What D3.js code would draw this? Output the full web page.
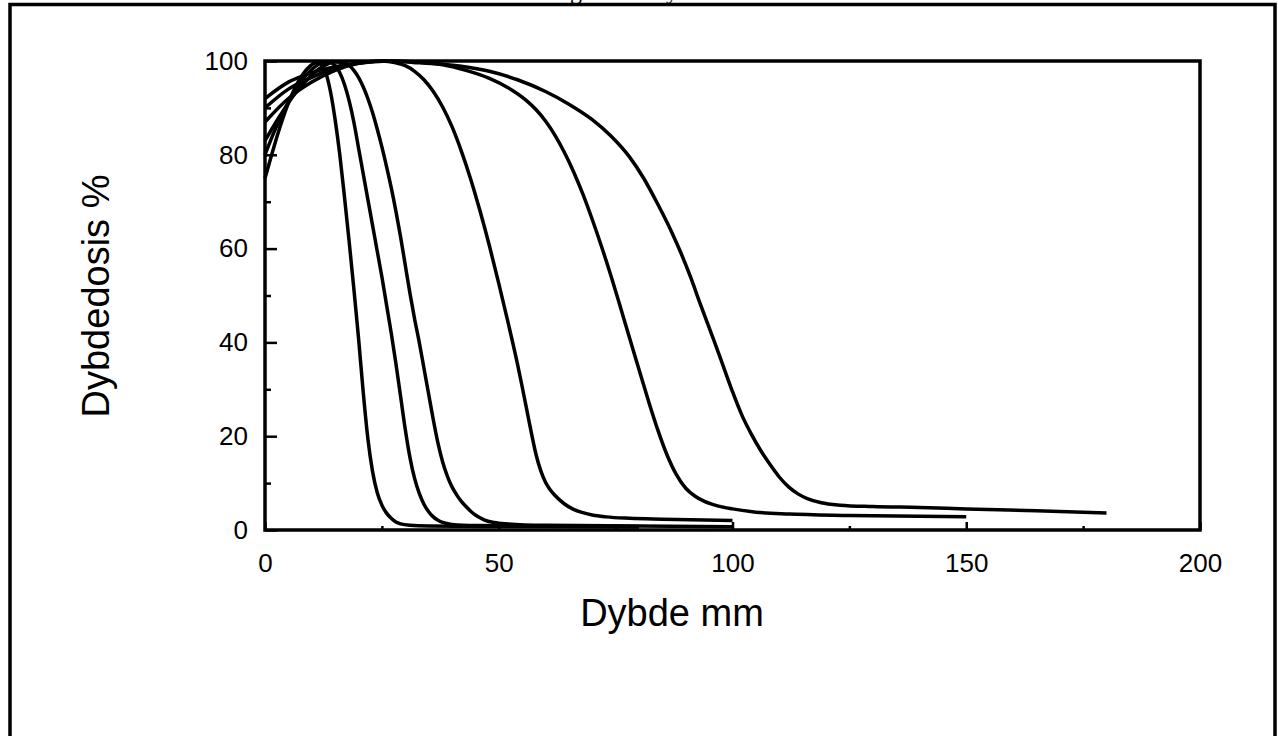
<html>
    <head>
        <title>Dybdedosis</title>
        <script src="https://d3js.org/d3.v7.min.js"></script>
        <style>
            body { margin: 0; background: #fff; }
            text { font-family: "Liberation Sans", Arial, sans-serif; }
        </style>
    </head>
    <body>
        <div id="container"></div>

        <script>
            // depth (mm), dose (%), one array per beam
            const curve1 = [[0,75],[1,78.5],[2,82],[3,85.3],[4,88.3],[5,91],[6,93.4],[7,95.4],[8,97],[9,98.3],[10,99.2],[11,99.7],[12,99.3],[13,97.5],[14,93.5],[15,87.5],[16,80],[17,71],[18,61.5],[19,51.5],[20,41],[21,29.5],[22,19.5],[23,12.5],[24,8],[25,5.3],[26,3.6],[27,2.5],[28,1.7],[29,1.3],[31,1.0],[35,0.85],[50,0.75],[80,0.65]]
            const curve2 = [[0,80],[2,85],[4,89.3],[6,93],[8,96],[10,98.2],[12,99.5],[14,99.7],[15,99],[16,97.5],[17,95],[18,91.5],[19,87],[20,81.5],[21,76],[22,70.5],[23,65],[24,59.5],[25,54],[26,48],[27,42],[28,35.5],[29,28.5],[30,21.5],[31,15.5],[32,11],[33,7.8],[34,5.5],[35,3.9],[36,2.8],[37,2.1],[38,1.6],[40,1.2],[45,0.95],[60,0.85],[80,0.75]]
            const curve3 = [[0,83],[3,88],[6,92.5],[9,96],[12,98.6],[15,99.8],[17,99.6],[19,98],[20,96.5],[21,94.5],[22,92],[23,89],[24,85.5],[25,81.7],[26,77.5],[27,73],[28,68],[29,62.5],[30,56.5],[31,50.5],[32,45],[33,40],[34,34.5],[35,29],[36,23.5],[37,18.5],[38,14.5],[39,11.5],[40,9.2],[41,7.5],[42,6.1],[43,5],[44,4],[45,3.2],[46,2.6],[47,2.1],[49,1.6],[52,1.3],[60,1.0],[100,0.7]]
            const curve4 = [[0,87],[5,92],[10,95.5],[15,98],[20,99.5],[25,100],[28,99.6],[30,99],[32,97.8],[34,96],[36,93.5],[38,90.2],[40,86],[42,80.8],[44,74.8],[46,68],[48,60.6],[50,52.6],[52,44.2],[54,35.4],[55,30.6],[56,25.6],[57,20.6],[58,16],[59,12.6],[60,10.2],[61,8.6],[62,7.4],[64,5.6],[66,4.4],[68,3.7],[70,3.2],[73,2.8],[78,2.5],[85,2.3],[100,2.0]]
            const curve5 = [[0,90],[5,94],[10,96.5],[15,98.5],[20,99.5],[27,100],[33,99.6],[38,99.2],[43,98],[48,96.3],[52,94.3],[56,91.5],[58,89.6],[60,87.2],[62,84.2],[64,80.6],[66,76.4],[68,71.6],[70,66.2],[72,60.4],[74,54.2],[76,47.6],[78,40.9],[80,34.2],[82,27.6],[84,21.4],[86,16],[88,11.8],[90,8.9],[92,7.2],[94,6.1],[97,5.1],[100,4.5],[105,3.8],[112,3.4],[125,3.1],[150,2.8]]
            const curve6 = [[0,92],[5,95.5],[10,97.5],[15,98.8],[20,99.6],[27,100],[35,99.6],[42,98.9],[48,97.8],[54,96],[60,93.5],[65,90.8],[70,87.5],[74,84],[78,79.5],[81,75],[84,69.5],[87,63.5],[89,59],[91,54],[93,48.5],[96,40.5],[98,35],[100,29.5],[102,24.5],[104,20.5],[106,17],[108,14],[110,11.3],[112,9.2],[114,7.7],[116,6.7],[119,5.8],[123,5.3],[130,5.0],[140,4.8],[150,4.5],[165,4.1],[180,3.6]]
            const curves = [curve1, curve2, curve3, curve4, curve5, curve6]

            const xMajor = [0, 50, 100, 150, 200]
            const xMinor = [25, 75, 125, 175]
            const yMajor = [0, 20, 40, 60, 80, 100]
            const yMinor = [10, 30, 50, 70, 90]

            const width = 1278, height = 736
            const plot = { left: 265, right: 1200, top: 61, bottom: 530 }

            const svg = d3.select('#container')
                .append('svg')
                .attr('width', width)
                .attr('height', height)

            // outer frame, bottom edge runs off the page
            svg.append('rect')
                .attr('x', 10).attr('y', 4.5)
                .attr('width', 1265).attr('height', 800)
                .attr('fill', 'none').attr('stroke', '#000').attr('stroke-width', 3.5)

            // title sits above the page, only descenders peek out
            const title = svg.append('text')
                .attr('y', -1)
                .style('font-family', '"Liberation Serif", serif')
                .style('font-size', '24px')
                .text('Elektronstråling: målte dybdedoser')
            const gOff = title.node().getSubStringLength(0, title.text().indexOf('g'))
            title.attr('x', 570 - gOff)

            const x = d3.scaleLinear().domain([0, 200]).range([plot.left, plot.right])
            const y = d3.scaleLinear().domain([0, 100]).range([plot.bottom, plot.top])

            // axes with inward ticks
            const xAxis = svg.append('g')
                .attr('transform', `translate(0,${plot.bottom})`)
                .call(d3.axisBottom(x).tickValues(xMajor).tickSize(-8))
            svg.append('g')
                .attr('transform', `translate(0,${plot.bottom})`)
                .call(d3.axisBottom(x).tickValues(xMinor).tickSize(-4).tickFormat(''))

            svg.append('g')
                .attr('transform', `translate(${plot.left},0)`)
                .call(d3.axisLeft(y).tickValues(yMajor).tickSize(-12).tickPadding(17))
            svg.append('g')
                .attr('transform', `translate(${plot.left},0)`)
                .call(d3.axisLeft(y).tickValues(yMinor).tickSize(-6).tickFormat(''))

            svg.selectAll('.domain').remove()
            svg.selectAll('.tick line').attr('stroke', '#000').attr('stroke-width', 2.5)
            svg.selectAll('.tick text')
                .attr('fill', '#000')
                .style('font-family', '"Liberation Sans", Arial, sans-serif')
                .style('font-size', '26px')
            xAxis.selectAll('.tick text').attr('dy', '0.71em').attr('y', 24)

            // curves
            const line = d3.line()
                .x(d => x(d[0]))
                .y(d => y(d[1]))
                .curve(d3.curveMonotoneX)

            svg.selectAll('path.curve')
                .data(curves)
                .enter()
                .append('path')
                .attr('class', 'curve')
                .attr('d', line)
                .attr('fill', 'none')
                .attr('stroke', '#000')
                .attr('stroke-width', 3.5)
                .attr('stroke-linejoin', 'round')

            // plot frame
            svg.append('rect')
                .attr('x', plot.left).attr('y', plot.top)
                .attr('width', plot.right - plot.left)
                .attr('height', plot.bottom - plot.top)
                .attr('fill', 'none').attr('stroke', '#000').attr('stroke-width', 3.5)

            // axis titles
            svg.append('text')
                .attr('x', 672).attr('y', 626)
                .attr('text-anchor', 'middle')
                .style('font-size', '38px')
                .text('Dybde mm')

            svg.append('text')
                .attr('transform', 'translate(109,296) rotate(-90)')
                .attr('text-anchor', 'middle')
                .style('font-size', '38px')
                .text('Dybdedosis %')
        </script>
    </body>
</html>
